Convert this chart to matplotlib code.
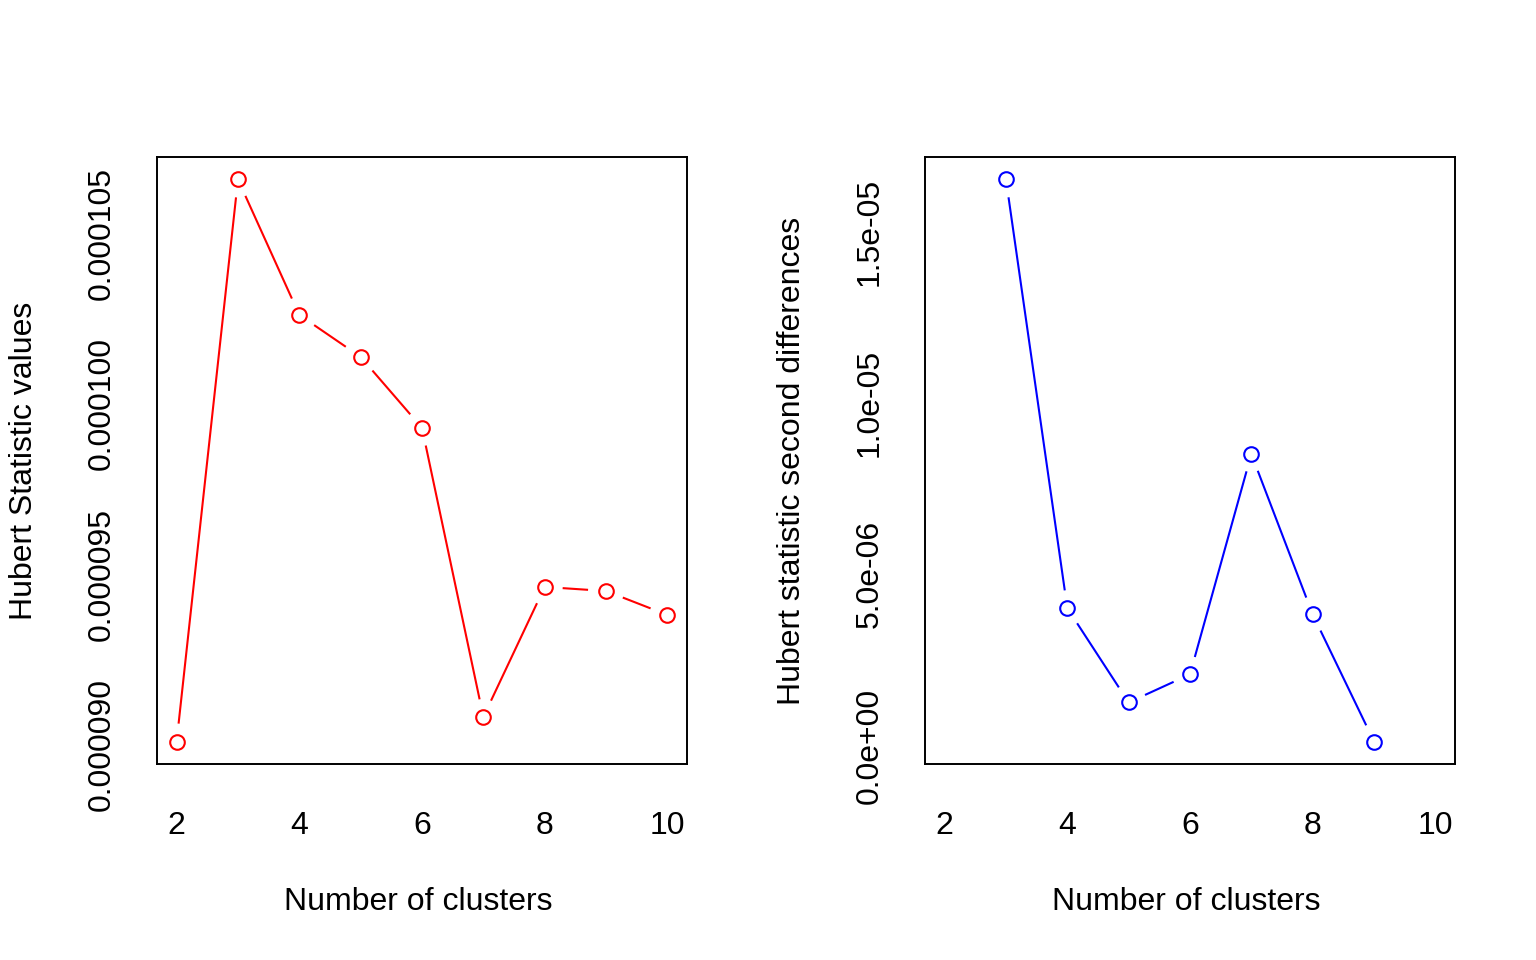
import matplotlib
matplotlib.use("Agg")
import matplotlib.pyplot as plt
import numpy as np

plt.rcParams['font.family'] = ['Liberation Sans', 'DejaVu Sans']

# Data
clusters = [2, 3, 4, 5, 6, 7, 8, 9, 10]
hubert_values = [90.10e-6, 106.57e-6, 102.60e-6, 101.37e-6, 99.29e-6,
                 90.82e-6, 94.63e-6, 94.51e-6, 93.81e-6]

diff_clusters = [3, 4, 5, 6, 7, 8, 9]
hubert_diffs = [16.52e-6, 4.01e-6, 1.26e-6, 2.08e-6, 8.51e-6, 3.83e-6, 0.12e-6]

left_yticks = [0.000090, 0.000095, 0.000100, 0.000105]
left_yticklabels = ["0.000090", "0.000095", "0.000100", "0.000105"]
right_yticks = [0.0, 5e-6, 1e-5, 1.5e-5]
right_yticklabels = ["0.0e+00", "5.0e-06", "1.0e-05", "1.5e-05"]
xticks = [2, 4, 6, 8, 10]

FS = 23

fig = plt.figure(figsize=(15.36, 9.6), dpi=100)
ax1 = fig.add_axes([157 / 1536, 196 / 960, 530 / 1536, 607 / 960])
ax2 = fig.add_axes([925 / 1536, 196 / 960, 530 / 1536, 607 / 960])


def r_lim(vals):
    lo, hi = min(vals), max(vals)
    pad = (hi - lo) * 0.04
    return lo - pad, hi + pad


def draw_b(ax, x, y, color, gap=18):
    # R type="b": points joined by lines with a gap around each point
    fig.canvas.draw()
    pts = ax.transData.transform(np.column_stack([x, y]))
    inv = ax.transData.inverted()
    for p, q in zip(pts[:-1], pts[1:]):
        d = q - p
        L = np.hypot(*d)
        if L <= 2 * gap:
            continue
        u = d / L
        a = inv.transform(p + u * gap)
        b = inv.transform(q - u * gap)
        ax.plot([a[0], b[0]], [a[1], b[1]], color=color, lw=1.5,
                solid_capstyle='butt')
    ax.plot(x, y, ls='none', marker='o', ms=10.5, mfc='white', mec=color,
            mew=1.5)


for ax, x, y, color, yt, ytl in [
        (ax1, clusters, hubert_values, 'red', left_yticks, left_yticklabels),
        (ax2, diff_clusters, hubert_diffs, 'blue', right_yticks, right_yticklabels)]:
    ax.set_xlim(1.68, 10.32)
    ax.set_ylim(*r_lim(y))
    ax.set_xticks(xticks)
    ax.set_xticklabels([str(t) for t in xticks], fontsize=FS)
    ax.set_yticks(yt)
    ax.set_yticklabels(ytl, fontsize=FS, rotation=90, va='center')
    ax.tick_params(length=0)
    ax.tick_params(axis='x', pad=34)
    ax.tick_params(axis='y', pad=29)
    for s in ax.spines.values():
        s.set_linewidth(1.4)
    draw_b(ax, x, y, color)

fig.text(418 / 1536, 1 - 902 / 960, "Number of clusters", fontsize=FS,
         ha='center', va='center')
fig.text(1186 / 1536, 1 - 902 / 960, "Number of clusters", fontsize=FS,
         ha='center', va='center')
fig.text(24 / 1536, 1 - 461 / 960, "Hubert Statistic values", fontsize=FS,
         ha='center', va='center', rotation=90)
fig.text(792 / 1536, 1 - 461 / 960, "Hubert statistic second differences",
         fontsize=FS, ha='center', va='center', rotation=90)

fig.savefig("out.png", dpi=100)
